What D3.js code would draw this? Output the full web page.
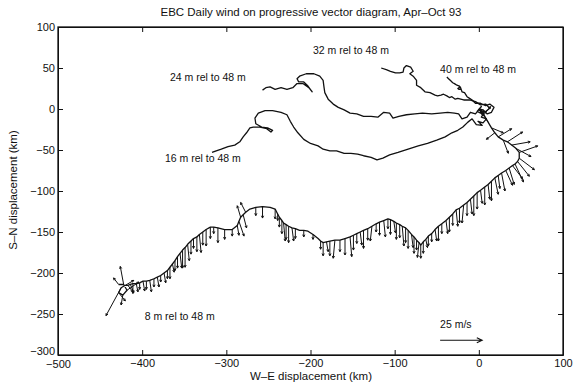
<!DOCTYPE html>
<html>
<head>
<meta charset="utf-8">
<script src="https://cdn.jsdelivr.net/npm/d3@7"></script>
<style>
  body { margin: 0; background: #fff; }
  text { font-family: "Liberation Sans", Arial, sans-serif; fill: #111; }
</style>
</head>
<body>
<svg id="chart" width="579" height="384"></svg>
<script>
// axis ticks (km)
const xTicks = [-500, -400, -300, -200, -100, 0, 100];
const yTicks = [-300, -250, -200, -150, -100, -50, 0, 50, 100];

// progressive vector traces, km from the mooring (W-E, S-N)
const track40 = [[0,0],[5,-1],[10,-6],[15,-4],[18,2],[13,6],[8,4],[2,7],[-4,7],[-8,11],[-11,13],[-14,15],
  [-17,20],[-20,21],[-22,27],[-25,25],[-21,24],[-24,24],[-23,28],[-26,29],[-29,31],[-31,32],[-34,35],[-36,37],[-38,39]];

const track32 = [[0,0],[7,-4],[13,1],[8,6],[2,5],[-4,9],[-11,11],[-18,11],[-25,13],[-28,12],[-32,15],[-35,14],
  [-38,16],[-42,18],[-45,17],[-49,16],[-52,17],[-58,20],[-64,21],[-69,26],[-74,29],[-74,35],[-78,40],[-82,43],
  [-78,46],[-81,51],[-86,53],[-89,50],[-90,45],[-94,44],[-99,44],[-105,46],[-110,48],[-116,50]];

const track24 = [[0,0],[4,-6],[-2,-3],[3,3],[-4,-6],[-10,-4],[-14,-10],[-20,-12],[-24,-6],[-29,-5],[-37,-4],
  [-46,-5],[-56,-6],[-67,-5],[-76,-6],[-86,-7],[-95,-9],[-102,-11],[-106,-5],[-113,-4],[-120,-10],[-128,-9],
  [-137,-9],[-145,-6],[-153,-5],[-160,-1],[-167,2],[-173,6],[-179,12],[-183,20],[-184,27],[-185,35],[-189,40],
  [-196,43],[-205,43],[-213,40],[-216,37],[-214,33],[-208,33],[-203,28],[-198,21],[-202,26],[-209,31],[-216,31],
  [-221,26],[-228,24],[-235,26],[-242,24],[-248,27],[-253,26],[-257,23]];

const track16 = [[0,0],[6,-5],[3,-10],[9,-12],[5,-17],[-1,-15],[4,-20],[-3,-19],[-8,-12],[-13,-16],[-19,-22],
  [-25,-26],[-32,-29],[-40,-34],[-50,-38],[-61,-42],[-72,-45],[-84,-49],[-96,-53],[-106,-56],[-114,-60],[-121,-62],
  [-128,-59],[-137,-57],[-144,-55],[-152,-54],[-160,-54],[-169,-51],[-177,-51],[-185,-49],[-191,-45],[-200,-42],
  [-208,-37],[-215,-29],[-220,-22],[-224,-15],[-228,-7],[-235,-4],[-245,-2],[-254,-2],[-262,-5],[-266,-11],
  [-265,-18],[-258,-22],[-251,-23],[-245,-26],[-247,-28],[-252,-24],[-260,-22],[-268,-22],[-272,-23],[-276,-29],
  [-280,-34],[-284,-40],[-290,-44],[-298,-46],[-306,-49],[-312,-51],[-317,-53]];

// 8 m trace: daily position (km) with daily wind u, v (m/s)
const track8 = [
  [0,0,0,0],[6,-7,4,5],[11,-16,-4,6],[15,-23,7,-3],[19,-29,-5,-4],[23,-34,8,5],[29,-38,3,-8],[34,-40,9,6],
  [39,-44,11,2],[44,-48,9,-5],[48,-53,11,4],
  [48,-60,9,-7],[46,-64,7,-9],[43,-67,5,-11],[40,-69,6,-8],[36,-72,3,-10],[32,-75,4,-9],[27,-78,2,-11],
  [23,-81,1,-8],[19,-84,2,-10],[15,-88,0,-12],[11,-92,1,-9],[7,-95,0,-11],[2,-99,1,-8],[-2,-102,0,-10],
  [-6,-106,0,-12],[-10,-110,1,-9],[-14,-114,0,-8],[-18,-117,-1,-11],[-23,-121,0,-9],[-27,-123,1,-10],
  [-31,-128,0,-7],[-35,-132,0,-9],[-39,-136,1,-8],[-44,-140,0,-6],[-48,-143,0,-9],[-52,-147,1,-7],
  [-56,-152,0,-5],[-60,-155,0,-6],[-63,-159,1,-5],[-66,-162,0,-7],[-69,-166,0,-8],
  [-71,-163,-1,-9],[-74,-160,0,-6],[-77,-156,0,-10],[-80,-153,1,-8],[-84,-148,0,-11],[-87,-145,0,-9],
  [-91,-143,1,-12],[-94,-141,0,-8],[-98,-139,0,-10],[-101,-137,1,-7],[-105,-135,0,-9],[-108,-134,0,-6],
  [-113,-136,1,-10],[-118,-138,0,-8],[-122,-140,0,-5],[-127,-143,-1,-9],[-132,-146,0,-7],[-137,-148,0,-11],
  [-141,-150,1,-8],[-145,-152,0,-6],[-149,-154,0,-9],[-153,-156,1,-12],[-159,-158,0,-10],[-165,-160,0,-7],
  [-171,-160,-1,-11],[-177,-161,0,-9],[-181,-162,1,-6],[-185,-163,0,-8],[-188,-161,0,-5],[-191,-158,0,0],
  [-197,-153,0,-3],[-203,-149,0,0],[-208,-148,0,-4],[-213,-148,0,0],[-218,-146,0,-6],[-222,-145,1,-8],
  [-226,-143,0,-10],[-229,-141,0,-9],[-232,-139,1,-11],[-234,-136,0,-8],[-237,-132,0,-6],[-239,-128,0,-4],
  [-242,-122,0,-6],[-248,-120,0,0],[-257,-119,0,-7],[-265,-120,0,-5],[-272,-122,0,0],[-277,-126,-3,6],
  [-280,-129,2,-8],[-283,-132,-2,7],[-285,-137,3,-9],[-287,-142,1,-6],[-293,-147,0,-4],[-302,-147,0,-6],
  [-310,-145,0,-9],[-315,-144,0,-4],[-319,-144,0,-7],[-324,-147,0,-10],[-328,-150,0,-8],[-332,-153,1,-11],
  [-335,-156,0,-9],[-339,-158,0,-6],[-342,-161,0,-8],[-346,-165,1,-10],[-349,-169,0,-12],[-352,-172,0,-11],
  [-355,-176,1,-9],[-358,-180,0,-7],[-361,-185,0,-6],[-364,-189,1,-5],[-367,-193,0,-7],[-370,-197,0,-5],
  [-374,-200,1,-6],[-378,-203,0,-4],[-382,-205,1,-6],[-386,-207,0,-5],[-391,-209,1,-7],[-395,-210,0,-5],
  [-399,-210,1,-6],[-403,-212,0,-4],[-407,-213,1,-5],[-411,-213,0,-6],[-414,-214,2,-5],[-417,-215,3,-4],
  [-420,-215,5,3],[-425,-218,-9,-17],[-428,-224,4,-5],[-423,-227,-1,-6],[-418,-221,7,5],[-422,-214,-2,11],
  [-428,-214,-3,4]];

const traceLabels = [
  { text: "32 m rel to 48 m", x: -197, y: 67 },
  { text: "40 m rel to 48 m", x: -46, y: 44 },
  { text: "24 m rel to 48 m", x: -367, y: 34 },
  { text: "16 m rel to 48 m", x: -373, y: -65 },
  { text: "8 m rel to 48 m", x: -397, y: -257 }
];

const scaleSpeed = 25;     // m/s shown by the key arrow
const kmPerMs = 2;         // stick length: 25 m/s = 50 km

const svg = d3.select("#chart");
const x = d3.scaleLinear().domain([-500, 100]).range([58, 563]);
const y = d3.scaleLinear().domain([-300, 100]).range([355, 27]);

// axes, ticks inward on all four sides
const fontSize = 11;
function styleAxis(g) {
  g.attr("font-size", fontSize).attr("font-family", null);
  g.selectAll("line").attr("stroke", "#111");
  g.select(".domain").attr("stroke", "#111");
}
svg.append("g").attr("transform", "translate(0,355)")
  .call(d3.axisBottom(x).tickValues(xTicks).tickSizeInner(-5).tickSizeOuter(0).tickPadding(4))
  .call(styleAxis)
  .selectAll(".tick text").filter(d => d === -500).attr("dy", "0.85em");
svg.append("g").attr("transform", "translate(0,27)")
  .call(d3.axisTop(x).tickValues(xTicks).tickSizeInner(-5).tickSizeOuter(0).tickFormat(""))
  .call(styleAxis);
svg.append("g").attr("transform", "translate(58,0)")
  .call(d3.axisLeft(y).tickValues(yTicks).tickSizeInner(-5).tickSizeOuter(0).tickPadding(3))
  .call(styleAxis)
  .selectAll(".tick text").filter(d => d === -300).attr("dy", "-0.05em");
svg.append("g").attr("transform", "translate(563,0)")
  .call(d3.axisRight(y).tickValues(yTicks).tickSizeInner(-5).tickSizeOuter(0).tickFormat(""))
  .call(styleAxis);

svg.append("rect").attr("x", 58).attr("y", 27).attr("width", 505).attr("height", 328)
  .attr("fill", "none").attr("stroke", "#111").attr("stroke-width", 1.3);

// titles
svg.append("text").attr("x", 311).attr("y", 16).attr("text-anchor", "middle")
  .attr("font-size", 11.5).text("EBC Daily wind on progressive vector diagram, Apr\u2013Oct 93");
svg.append("text").attr("x", 311).attr("y", 380).attr("text-anchor", "middle")
  .attr("font-size", 11.5).text("W\u2013E displacement (km)");
svg.append("text").attr("transform", "translate(17,190) rotate(-90)").attr("text-anchor", "middle")
  .attr("font-size", 11.5).text("S\u2013N displacement (km)");

// traces
const line = d3.line().x(d => x(d[0])).y(d => y(d[1]));
[track40, track32, track24, track16, track8].forEach(t => {
  svg.append("path").attr("d", line(t)).attr("fill", "none")
    .attr("stroke", "#111").attr("stroke-width", 1.3).attr("stroke-linejoin", "round");
});

// arrow helper in pixel space
function arrow(g, x1, y1, x2, y2, head, width) {
  const a = Math.atan2(y2 - y1, x2 - x1);
  const p = d3.path();
  p.moveTo(x1, y1); p.lineTo(x2, y2);
  p.moveTo(x2 - head * Math.cos(a - 0.45), y2 - head * Math.sin(a - 0.45));
  p.lineTo(x2, y2);
  p.lineTo(x2 - head * Math.cos(a + 0.45), y2 - head * Math.sin(a + 0.45));
  g.append("path").attr("d", p.toString()).attr("fill", "none")
    .attr("stroke", "#111").attr("stroke-width", width);
}

// wind sticks on the 8 m trace
const sticks = svg.append("g");
track8.filter(d => d[2] !== 0 || d[3] !== 0).forEach(d => {
  arrow(sticks, x(d[0]), y(d[1]), x(d[0] + d[2] * kmPerMs), y(d[1] + d[3] * kmPerMs), 2.5, 1);
});

// trace labels
svg.selectAll(".lab").data(traceLabels).join("text").attr("class", "lab")
  .attr("x", d => x(d.x)).attr("y", d => y(d.y)).attr("font-size", 10.5).text(d => d.text);

// speed key
const keyX0 = -46, keyY = -282;
arrow(svg, x(keyX0), y(keyY), x(keyX0 + scaleSpeed * kmPerMs), y(keyY), 6, 1.1);
svg.append("text").attr("x", x(keyX0)).attr("y", y(-267)).attr("font-size", 10.5).text(scaleSpeed + " m/s");
</script>
</body>
</html>
